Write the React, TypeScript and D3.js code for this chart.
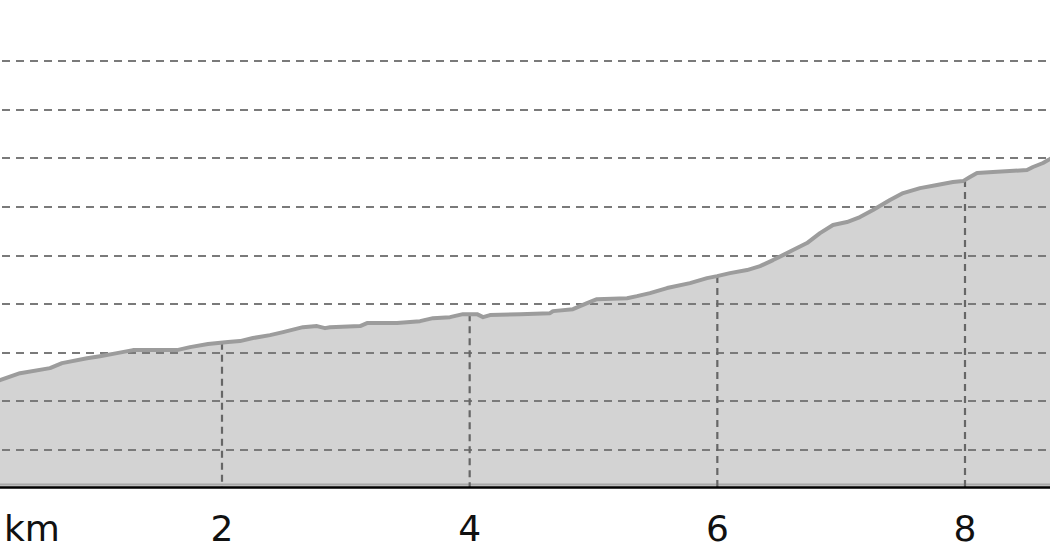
import React, { useEffect, useRef } from "react";
import * as d3 from "d3";

// distance along route (km)
const distanceKm = [
  0.126, 0.207, 0.369, 0.611, 0.708, 0.91, 1.015, 1.152, 1.281, 1.637, 1.742, 1.887,
  2.049, 2.145, 2.25, 2.388, 2.493, 2.654, 2.767, 2.832, 2.872, 3.115, 3.171, 3.413,
  3.599, 3.704, 3.841, 3.946, 4.059, 4.108, 4.164, 4.406, 4.649, 4.673, 4.834, 4.948,
  5.028, 5.271, 5.351, 5.456, 5.594, 5.779, 5.917, 5.998, 6.102, 6.24, 6.345, 6.45,
  6.53, 6.611, 6.724, 6.829, 6.934, 7.047, 7.152, 7.257, 7.394, 7.5, 7.637, 7.774,
  7.903, 7.984, 8.04, 8.097, 8.226, 8.501, 8.549, 8.63, 8.687, 8.77,
];
// elevation (m)
const elevationM = [
  268.7, 271.8, 279.0, 284.2, 289.3, 294.4, 296.5, 299.6, 302.7, 302.7, 305.8, 308.9,
  311.0, 312.0, 315.1, 318.1, 321.2, 326.3, 327.4, 325.3, 326.3, 327.4, 330.5, 330.5,
  332.5, 335.6, 336.6, 339.7, 339.7, 336.6, 338.7, 339.7, 340.7, 342.8, 344.8, 351.0,
  355.1, 356.1, 358.2, 361.3, 366.5, 371.6, 376.7, 378.8, 381.9, 385.0, 389.1, 395.3,
  400.4, 405.6, 412.8, 423.0, 431.3, 434.4, 439.5, 446.7, 457.0, 464.2, 469.3, 472.4,
  475.5, 476.5, 480.7, 484.8, 485.8, 487.9, 491.0, 495.1, 499.2, 506.0,
];
const xTicks = [2, 4, 6, 8];
const xTickLabels = ["2", "4", "6", "8"];
const yTicks = [200, 250, 300, 350, 400, 450, 500, 550, 600];
const unitLabel = "km";

const W = 1050;
const H = 560;

export default function App() {
  const ref = useRef<SVGSVGElement | null>(null);

  useEffect(() => {
    document.body.style.margin = "0";
    const svg = d3.select(ref.current);
    svg.selectAll("*").remove();

    const baseY = 487;
    const x = d3.scaleLinear().domain([2, 8]).range([222, 965]);
    const y = d3.scaleLinear().domain([200, 600]).range([450, 61]);
    const baseVal = y.invert(baseY);

    const data = distanceKm.map((d, i) => ({ d, e: elevationM[i] }));

    svg
      .append("defs")
      .append("clipPath")
      .attr("id", "plotclip")
      .append("rect")
      .attr("x", 0)
      .attr("y", 0)
      .attr("width", W)
      .attr("height", baseY);

    const g = svg.append("g").attr("clip-path", "url(#plotclip)");

    const area = d3
      .area<{ d: number; e: number }>()
      .x((p) => x(p.d))
      .y0(y(baseVal))
      .y1((p) => y(p.e));

    g.append("path").datum(data).attr("d", area).attr("fill", "#d3d3d3");

    // bottom edge band of area
    g.append("line")
      .attr("x1", 0)
      .attr("x2", W)
      .attr("y1", baseY - 2.5)
      .attr("y2", baseY - 2.5)
      .attr("stroke", "#a8a8a8")
      .attr("stroke-width", 2);

    // horizontal grid
    g.selectAll("line.hgrid")
      .data(yTicks)
      .enter()
      .append("line")
      .attr("class", "hgrid")
      .attr("x1", 0)
      .attr("x2", W)
      .attr("y1", (v) => Math.round(y(v)))
      .attr("y2", (v) => Math.round(y(v)))
      .attr("stroke", "#7a7a7a")
      .attr("stroke-width", 2.2)
      .attr("stroke-dasharray", "8,6")
      .attr("stroke-dashoffset", 12);

    // elevation at tick for vertical grid top
    const interp = (km: number) => {
      const i = d3.bisector((p: { d: number }) => p.d).left(data, km);
      const a = data[Math.max(0, i - 1)];
      const b = data[Math.min(data.length - 1, i)];
      if (b.d === a.d) return a.e;
      return a.e + ((km - a.d) / (b.d - a.d)) * (b.e - a.e);
    };

    g.selectAll("line.vgrid")
      .data(xTicks)
      .enter()
      .append("line")
      .attr("class", "vgrid")
      .attr("x1", (v) => x(v))
      .attr("x2", (v) => x(v))
      .attr("y1", (v) => y(interp(v)))
      .attr("y2", baseY)
      .attr("stroke", "#666")
      .attr("stroke-width", 2.2)
      .attr("stroke-dasharray", "7,5");

    const line = d3
      .line<{ d: number; e: number }>()
      .x((p) => x(p.d))
      .y((p) => y(p.e));

    g.append("path")
      .datum(data)
      .attr("d", line)
      .attr("fill", "none")
      .attr("stroke", "#9c9c9c")
      .attr("stroke-width", 4)
      .attr("stroke-linejoin", "round");

    // axis line
    svg
      .append("line")
      .attr("x1", 0)
      .attr("x2", W)
      .attr("y1", baseY + 0.5)
      .attr("y2", baseY + 0.5)
      .attr("stroke", "#000")
      .attr("stroke-width", 2.5);

    const font = "DejaVu Sans";
    svg
      .selectAll("text.tick")
      .data(xTicks)
      .enter()
      .append("text")
      .attr("class", "tick")
      .attr("x", (v) => x(v))
      .attr("y", 541)
      .attr("text-anchor", "middle")
      .style("font-family", font)
      .style("font-size", "36px")
      .attr("fill", "#111")
      .text((_, i) => xTickLabels[i]);

    svg
      .append("text")
      .attr("x", 4)
      .attr("y", 541)
      .style("font-family", font)
      .style("font-size", "36px")
      .attr("fill", "#111")
      .text(unitLabel);
  }, []);

  return (
    <svg
      ref={ref}
      width={W}
      height={H}
      style={{ display: "block", position: "absolute", left: 0, top: 0, background: "#fff" }}
    />
  );
}
